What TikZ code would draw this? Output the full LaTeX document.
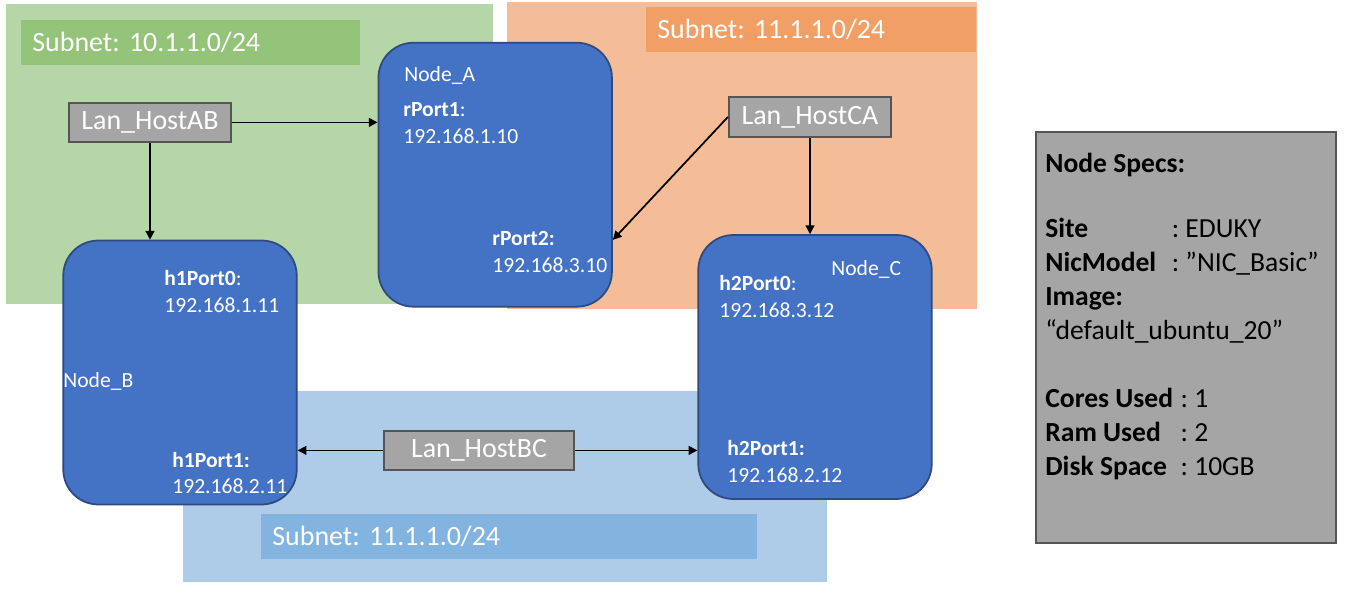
\documentclass[tikz,border=0pt]{standalone}
\usepackage{fontspec}
\setmainfont{Carlito}
\usetikzlibrary{arrows.meta}
\frenchspacing
\definecolor{netgreen}{HTML}{B5D6A6}
\definecolor{hdrgreen}{HTML}{93C47A}
\definecolor{netorange}{HTML}{F5BC98}
\definecolor{hdrorange}{HTML}{F29F66}
\definecolor{netblue}{HTML}{AECCE8}
\definecolor{hdrblue}{HTML}{83B3DF}
\definecolor{vmblue}{HTML}{4472C4}
\definecolor{vmborder}{HTML}{2F4A7E}
\definecolor{langray}{HTML}{A5A5A5}
\definecolor{landraw}{HTML}{555555}
\begin{document}
\begin{tikzpicture}[x=0.02cm,y=-0.02cm,
	vm/.style={draw=vmborder,line width=1pt,fill=vmblue,rounded corners=0.7cm,minimum width=4.67cm,minimum height=5.28cm},
	lan/.style={draw=landraw,line width=1pt,fill=langray,text=white,font=\fontsize{15.9}{18}\selectfont,minimum height=0.79cm,inner sep=0pt},
	hdr/.style={anchor=north west,text=white,font=\fontsize{15.9}{18}\selectfont,align=left,inner xsep=0.22cm,inner ysep=0pt,minimum height=0.9cm},
	lbl/.style={anchor=base west,text=white,inner sep=0pt,font=\fontsize{12.3}{14}\selectfont},
	link/.style={-{Triangle[length=5pt,width=5pt]},line width=1pt}]
	\useasboundingbox (0,0) rectangle (1357,603);
	%\draw[step=50,gray!30] (0,0) grid (1357,603); %Hilfsgitter
	% subnets
	\fill[netgreen] (6,4) rectangle (493,304);
	\fill[netorange] (507,2) rectangle (977,309);
	\fill[netblue] (183,391) rectangle (827,582);
	\node[hdr,fill=hdrgreen,text width=6.34cm] (subAB) at (21,20) {Subnet: 10.1.1.0/24};
	\node[hdr,fill=hdrorange,text width=6.16cm] (subCA) at (646,7) {Subnet: 11.1.1.0/24};
	\node[hdr,fill=hdrblue,text width=9.48cm] (subBC) at (261,514) {Subnet: 11.1.1.0/24};
	% nodes
	\node[vm] (nodeA) at (495.2,174.7) {};
	\node[vm] (nodeB) at (180,372.5) {};
	\node[vm] (nodeC) at (815,367) {};
	\node[lan,minimum width=3.25cm] (lanAB) at (150,122.4) {Lan\_HostAB};
	\node[lan,minimum width=3.25cm] (lanCA) at (810,117) {Lan\_HostCA};
	\node[lan,minimum width=3.8cm] (lanBC) at (479,450.4) {Lan\_HostBC};
	\draw[link] (lanAB) -- (lanAB -| nodeA.west);
	\draw[link] (lanAB) -- (lanAB |- nodeB.north);
	\draw[link] (lanCA.west) -- (nodeA.-29);
	\draw[link] (lanCA) -- (lanCA |- nodeC.north);
	\draw[link] (lanBC) -- (lanBC -| nodeB.east);
	\draw[link] (lanBC) -- (lanBC -| nodeC.west);
	% labels
	\node[lbl] (nameA) at (404,81) {Node\_A};
	\node[lbl] (rp1) at (403,116) {\textbf{rPort1}:};
	\node[lbl] (rp1ip) at (403,143) {192.168.1.10};
	\node[lbl] (rp2) at (492,245) {\textbf{rPort2:}};
	\node[lbl] (rp2ip) at (492,272) {192.168.3.10};
	\node[lbl] (nameB) at (63,387) {Node\_B};
	\node[lbl] (h1p0) at (164,285) {\textbf{h1Port0}:};
	\node[lbl] (h1p0ip) at (164,312) {192.168.1.11};
	\node[lbl] (h1p1) at (172,467) {\textbf{h1Port1:}};
	\node[lbl] (h1p1ip) at (172,493) {192.168.2.11};
	\node[lbl] (nameC) at (831,275) {Node\_C};
	\node[lbl] (h2p0) at (719,290) {\textbf{h2Port0}:};
	\node[lbl] (h2p0ip) at (719,317) {192.168.3.12};
	\node[lbl] (h2p1) at (727,455) {\textbf{h2Port1:}};
	\node[lbl] (h2p1ip) at (727,482) {192.168.2.12};
	% specs
	\node[draw=landraw,line width=1pt,fill=langray,minimum width=6cm,minimum height=8.22cm] (specs) at (1186,337.4) {};
	\node[anchor=base west,inner sep=0pt,align=left,font=\fontsize{15.7}{19.3}\selectfont] (specstext) at (1045,475)
		{\textbf{Node Specs:}\\[17.6pt]
		\makebox[72pt][l]{\textbf{Site}}: EDUKY\\
		\makebox[72pt][l]{\textbf{NicModel}}: ”NIC\_Basic”\\
		\textbf{Image:}\\
		“default\_ubuntu\_20”\\[19.3pt]
		\makebox[77pt][l]{\textbf{Cores Used}}: 1\\
		\makebox[77pt][l]{\textbf{Ram Used}}: 2\\
		\makebox[77pt][l]{\textbf{Disk Space}}: 10GB};
\end{tikzpicture}
\end{document}
